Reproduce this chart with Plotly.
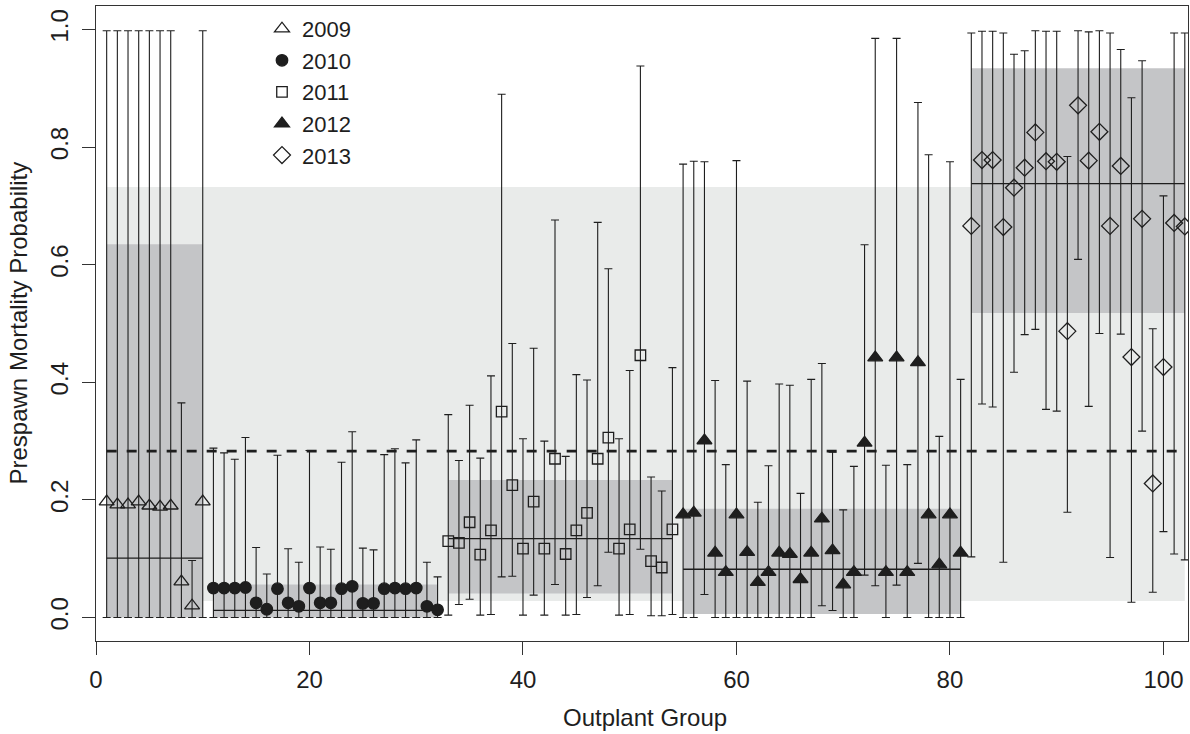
import numpy as np
import plotly.graph_objects as go

# ---------------- data ----------------
years = ["2009", "2010", "2011", "2012", "2013"]
group_start = [1, 11, 33, 55, 82]
group_end = [10, 32, 54, 81, 102]

est_2009 = [0.197, 0.192, 0.192, 0.197, 0.190, 0.188, 0.190, 0.061, 0.020, 0.197]
hi_2009 = [0.998, 0.998, 0.998, 0.998, 0.998, 0.998, 0.998, 0.365, 0.097, 0.998]
lo_2009 = [0.0] * 10

est_2010 = [0.050, 0.050, 0.050, 0.051, 0.025, 0.014, 0.049, 0.025, 0.019, 0.050, 0.025,
            0.025, 0.049, 0.053, 0.024, 0.024, 0.049, 0.050, 0.049, 0.050, 0.019, 0.013]
hi_2010 = [0.288, 0.280, 0.269, 0.306, 0.119, 0.074, 0.276, 0.117, 0.094, 0.284, 0.120,
           0.116, 0.264, 0.316, 0.118, 0.115, 0.277, 0.287, 0.263, 0.302, 0.094, 0.069]
lo_2010 = [0.0] * 22

est_2011 = [0.130, 0.127, 0.162, 0.107, 0.148, 0.350, 0.225, 0.117, 0.197, 0.117, 0.270,
            0.108, 0.148, 0.178, 0.270, 0.306, 0.117, 0.150, 0.446, 0.096, 0.085, 0.150]
hi_2011 = [0.345, 0.267, 0.361, 0.271, 0.411, 0.890, 0.466, 0.304, 0.458, 0.300, 0.676,
           0.274, 0.413, 0.404, 0.672, 0.593, 0.304, 0.420, 0.938, 0.239, 0.215, 0.425]
lo_2011 = [0.004, 0.022, 0.031, 0.004, 0.005, 0.069, 0.070, 0.004, 0.038, 0.004, 0.056,
           0.004, 0.005, 0.034, 0.054, 0.111, 0.004, 0.005, 0.116, 0.003, 0.003, 0.005]

est_2012 = [0.175, 0.178, 0.301, 0.110, 0.077, 0.175, 0.111, 0.060, 0.077, 0.110, 0.108,
            0.065, 0.110, 0.168, 0.114, 0.056, 0.077, 0.297, 0.442, 0.077, 0.442, 0.077,
            0.434, 0.175, 0.090, 0.175, 0.110]
hi_2012 = [0.771, 0.776, 0.775, 0.403, 0.260, 0.777, 0.402, 0.196, 0.258, 0.397, 0.395,
           0.211, 0.405, 0.432, 0.281, 0.183, 0.257, 0.634, 0.985, 0.259, 0.985, 0.260,
           0.876, 0.787, 0.308, 0.775, 0.405]
lo_2012 = [0.0, 0.0, 0.039, 0.0, 0.0, 0.0, 0.0, 0.0, 0.0, 0.0, 0.0,
           0.0, 0.0, 0.020, 0.012, 0.0, 0.0, 0.072, 0.054, 0.0, 0.055, 0.0,
           0.092, 0.0, 0.0, 0.0, 0.0]

est_2013 = [0.666, 0.778, 0.778, 0.664, 0.731, 0.765, 0.825, 0.776, 0.775, 0.487, 0.871,
            0.777, 0.826, 0.666, 0.768, 0.443, 0.678, 0.228, 0.426, 0.671, 0.665]
hi_2013 = [0.994, 0.997, 0.997, 0.994, 0.958, 0.964, 0.998, 0.997, 0.997, 0.784, 0.998,
           0.996, 0.998, 0.994, 0.966, 0.884, 0.947, 0.491, 0.717, 0.994, 0.994]
lo_2013 = [0.103, 0.363, 0.358, 0.094, 0.417, 0.481, 0.490, 0.354, 0.351, 0.179, 0.609,
           0.359, 0.483, 0.102, 0.482, 0.026, 0.317, 0.043, 0.146, 0.108, 0.098]

# year-level summaries (posterior mean and interval)
year_mean = [0.101, 0.012, 0.134, 0.082, 0.738]
year_lo = [0.000, 0.000, 0.041, 0.006, 0.518]
year_hi = [0.635, 0.056, 0.234, 0.185, 0.934]

# overall summary
overall_mean = 0.283
overall_lo = 0.028
overall_hi = 0.732

x_ticks = [0, 20, 40, 60, 80, 100]
y_ticks = [0.0, 0.2, 0.4, 0.6, 0.8, 1.0]

# ---------------- styling ----------------
ink = "#1e1e1e"
light_band = "#e9ebea"
dark_band = "#c4c5c7"
font_family = "Liberation Sans, Arial, sans-serif"

est_all = [est_2009, est_2010, est_2011, est_2012, est_2013]
hi_all = [hi_2009, hi_2010, hi_2011, hi_2012, hi_2013]
lo_all = [lo_2009, lo_2010, lo_2011, lo_2012, lo_2013]
symbols = ["triangle-up-open", "circle", "square-open", "triangle-up", "diamond-open"]
sizes = [13, 11.5, 10.5, 13, 13]

fig = go.Figure()

shapes = []
# overall band
shapes.append(dict(type="rect", xref="x", yref="y", x0=group_start[0], x1=group_end[-1],
                   y0=overall_lo, y1=overall_hi, fillcolor=light_band, line=dict(width=0),
                   layer="below"))
# year bands
for s, e, lo, hi in zip(group_start, group_end, year_lo, year_hi):
    shapes.append(dict(type="rect", xref="x", yref="y", x0=s, x1=e, y0=lo, y1=hi,
                       fillcolor=dark_band, line=dict(width=0), layer="below"))
fig.update_layout(shapes=shapes)

# year mean lines
for s, e, m in zip(group_start, group_end, year_mean):
    fig.add_trace(go.Scatter(x=[s, e], y=[m, m], mode="lines",
                             line=dict(color=ink, width=1.3), showlegend=False,
                             hoverinfo="skip"))
# overall mean dashed line
fig.add_trace(go.Scatter(x=[group_start[0], group_end[-1]], y=[overall_mean, overall_mean],
                         mode="lines", line=dict(color=ink, width=2.6, dash="10px,10px"),
                         showlegend=False, hoverinfo="skip"))

for yr, s, e, est, hi, lo, sym, sz in zip(years, group_start, group_end, est_all, hi_all,
                                          lo_all, symbols, sizes):
    xs = list(range(s, e + 1))
    est_a = np.array(est)
    fig.add_trace(go.Scatter(
        x=xs, y=est, mode="markers", name=yr,
        marker=dict(symbol=sym, size=sz, color=ink, line=dict(color=ink, width=1.3)),
        error_y=dict(type="data", symmetric=False, array=list(np.array(hi) - est_a),
                     arrayminus=list(est_a - np.array(lo)), color=ink, thickness=1.1,
                     width=4),
    ))

fig.update_layout(
    width=1190, height=734,
    margin=dict(l=96, r=2, t=6, b=93),
    paper_bgcolor="white", plot_bgcolor="white",
    font=dict(family=font_family, size=24, color=ink),
    showlegend=True,
    legend=dict(x=0.152, y=0.997, xanchor="left", yanchor="top",
                bgcolor="rgba(0,0,0,0)", font=dict(size=22, color=ink),
                itemwidth=30, tracegroupgap=0),
    xaxis=dict(range=[0, 102.3], tickvals=x_ticks, ticktext=[str(v) for v in x_ticks],
               showgrid=False, zeroline=False, showline=True, mirror=True,
               linecolor="#333333", linewidth=1.3, ticks="outside", ticklen=13,
               tickwidth=1.2, tickcolor="#333333", ticklabelstandoff=4,
               tickfont=dict(size=24, color=ink), automargin=False),
    yaxis=dict(range=[-0.04, 1.04], tickvals=y_ticks, ticktext=[f"{v:.1f}" for v in y_ticks],
               showgrid=False, zeroline=False, showline=True, mirror=True,
               linecolor="#333333", linewidth=1.3, ticks="outside", ticklen=13,
               tickwidth=1.2, tickcolor="#333333", tickangle=-90, ticklabelstandoff=4,
               tickfont=dict(size=24, color=ink), automargin=False),
    annotations=[
        dict(text="Outplant Group", xref="paper", yref="paper", x=0.5, y=0,
             xshift=3, yshift=-76, xanchor="center", yanchor="middle", showarrow=False,
             font=dict(size=24, color=ink)),
        dict(text="Prespawn Mortality Probability", xref="paper", yref="paper", x=0, y=0.5,
             xshift=-78, xanchor="center", yanchor="middle", showarrow=False, textangle=-90,
             font=dict(size=24, color=ink)),
    ],
)

fig.write_html("out.html", config={"displayModeBar": False},
               post_script="document.body.style.margin='0px';")
